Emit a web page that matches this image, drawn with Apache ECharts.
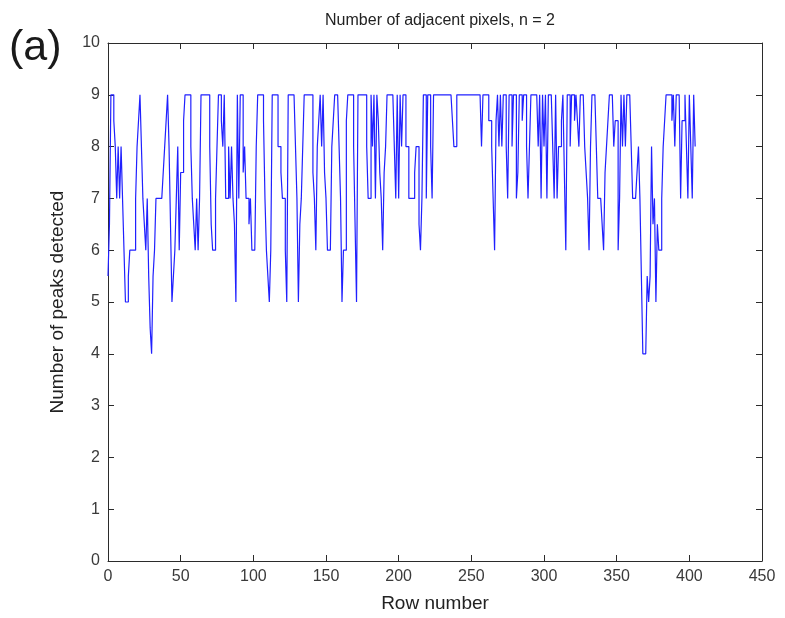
<!DOCTYPE html>
<html>
<head>
<meta charset="utf-8">
<script src="https://cdn.jsdelivr.net/npm/echarts@6/dist/echarts.min.js"></script>
<style>html,body{margin:0;padding:0;background:#fff;}#c{width:785px;height:618px;}</style>
</head>
<body>
<div id="c"></div>
<script>
// Number of peaks detected per row (rows 0..404)
const rows000 = [5.5,6.5,9,9,8.5,8,7,8,7,8, 7,6,5,5,5.5,6,6,6,6,7, 8,8.5,9,8,7,6.5,6,7,5.5,4.5, 4,5.5,6,7,7,7,7,7,7.5,8, 8.5,9,8,6.5,5,5.5,6,7,8,6];
const rows050 = [7.5,7.5,8.5,9,9,9,9,8,7,6.5, 6,7,6,7,9,9,9,9,9,9, 8,6.5,6,6,7,8,9,9,8.5,8, 9,7,7,8,7,8,7,6.5,5,9, 7,9,9,7.5,8,7,7,6.5,7,6];
const rows100 = [6,6,8,9,9,9,9,8.5,7,6, 5.5,5,6,9,9,9,9,8,8,7.5, 7,7,6,5,9,9,9,9,9,8, 7,5,6.5,7,8,9,9,9,9,9, 9,7.5,7,6,8,8.5,9,8,9,7.5];
const rows150 = [7,6,6,6,8,8.5,9,9,9,8, 7,5,6,6,8.5,9,9,9,9,8, 6.5,5,9,9,9,9,9,9,8,7, 7,9,8,9,7,9,8.5,7.5,7,6, 7.5,8,9,9,9,9,9,8,7,9];
const rows200 = [7,9,8,9,9,8,8,7,7,7, 7,7.5,8,8,6.5,6,7,9,9,7, 9,9,8,7,9,9,9,9,9,9, 9,9,9,9,9,9,9,8.5,8,8, 9,9,9,9,9,9,9,9,9,9];
const rows250 = [9,9,9,9,9,9,9,8,9,9, 9,9,8.5,8.5,8,7,6,8.5,9,8, 9,8,9,9,8,7,9,9,8,9, 9,7,7.5,9,9,8.5,9,9,8,7, 8,9,9,9,9,9,8,9,7,9];
const rows300 = [8,9,7,9,9,9,8,7,9,7, 8,8,8.5,9,7.5,6,9,9,8,9, 9,8.5,9,8.5,8,9,9,9,8,7.5, 7,6,8,9,9,9,8,7,7,7, 6.5,6,7.5,8,8.5,9,9,9,8,8.5];
const rows350 = [8.5,6,7,9,8,9,8,9,9,9, 8,7,7,7,7.5,8,7,5.5,4,4, 4,5.5,5,5.5,8,6.5,7,5,6.5,6, 6,7,8,8.5,9,9,9,9,8.5,9, 8,9,9,9,7,8.5,8.5,9,8,7, 9,8,7,9,8];

const xTicks = {min: 0, max: 450, interval: 50};
const yTicks = {min: 0, max: 10, interval: 1};

const values = [].concat(rows000, rows050, rows100, rows150, rows200, rows250, rows300, rows350);
const data = values.map((v, i) => [i, v]);

const axisCol = '#2b2b2b';
const font = '"Liberation Sans", Arial, sans-serif';
function mkAxis(extra) {
  return Object.assign({
    axisLine: {show: true, onZero: false, lineStyle: {color: axisCol, width: 1}},
    axisTick: {show: true, inside: true, length: 6, lineStyle: {color: axisCol, width: 1}},
    splitLine: {show: false},
    axisLabel: {color: '#3a3a3a', fontFamily: font, fontSize: 16, margin: 8}
  }, extra);
}

const chart = echarts.init(document.getElementById('c'), null, {renderer: 'canvas'});
chart.setOption({
  backgroundColor: '#fff',
  animation: false,
  title: {
    text: 'Number of adjacent pixels, n = 2',
    left: 435, top: 8, textAlign: 'center',
    textStyle: {fontFamily: font, fontSize: 16, fontWeight: 'normal', color: '#222'}
  },
  graphic: [{
    type: 'text', left: 9, top: 27,
    style: {text: '(a)', font: '43px "Liberation Sans", Arial, sans-serif', fill: '#1a1a1a'}
  }],
  grid: {left: 108, right: 23, top: 43, bottom: 57, containLabel: false},
  xAxis: [
    mkAxis({
      type: 'value', position: 'bottom', min: xTicks.min, max: xTicks.max, interval: xTicks.interval,
      name: 'Row number', nameLocation: 'middle', nameGap: 33,
      nameTextStyle: {fontFamily: font, fontSize: 19, color: '#222'}
    }),
    mkAxis({
      type: 'value', position: 'top', min: xTicks.min, max: xTicks.max, interval: xTicks.interval,
      axisLabel: {show: false}
    })
  ],
  yAxis: [
    mkAxis({
      type: 'value', position: 'left', min: yTicks.min, max: yTicks.max, interval: yTicks.interval,
      name: 'Number of peaks detected', nameLocation: 'middle', nameGap: 41,
      nameTextStyle: {fontFamily: font, fontSize: 19, color: '#222'}
    }),
    mkAxis({
      type: 'value', position: 'right', min: yTicks.min, max: yTicks.max, interval: yTicks.interval,
      axisLabel: {show: false}
    })
  ],
  series: [{
    type: 'line', data: data, step: 'end', showSymbol: false, symbol: 'none',
    xAxisIndex: 0, yAxisIndex: 0,
    lineStyle: {color: '#2020ff', width: 1.2},
    emphasis: {disabled: true}
  }]
});
</script>
</body>
</html>
